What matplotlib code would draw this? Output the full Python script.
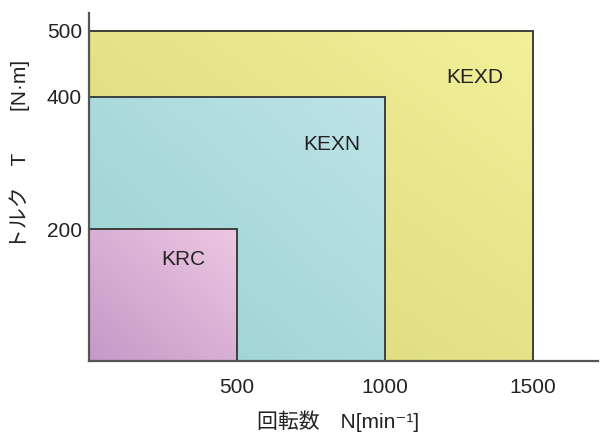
import numpy as np
import matplotlib.pyplot as plt
from matplotlib.patches import Rectangle

plt.rcParams['font.family'] = ['Liberation Sans', 'Noto Sans CJK JP', 'DejaVu Sans']

# motor ranges: max speed [min^-1] and max torque [N*m]
models = ["KEXD", "KEXN", "KRC"]
max_speed = [1500, 1000, 500]
max_torque = [500, 400, 200]
label_pos = [(1302, 421), (821, 320), (319, 145)]
# gradient colours (bottom-left, top-right)
grad_lo = [(0.84, 0.84, 0.47), (0.60, 0.82, 0.82), (0.77, 0.60, 0.78)]
grad_hi = [(0.95, 0.94, 0.60), (0.74, 0.89, 0.91), (0.93, 0.78, 0.89)]

xticks = [500, 1000, 1500]
yticks = [200, 400, 500]

fig = plt.figure(figsize=(6, 4.33), dpi=100)
ax = fig.add_axes([0.148, 0.166, 0.849, 0.804])

n = 64
u, v = np.meshgrid(np.linspace(0, 1, n), np.linspace(0, 1, n))
t = (u + v) / 2

for i, name in enumerate(models):
    w, h = max_speed[i], max_torque[i]
    lo = np.array(grad_lo[i])
    hi = np.array(grad_hi[i])
    img = lo[None, None, :] * (1 - t[..., None]) + hi[None, None, :] * t[..., None]
    ax.imshow(img, extent=(0, w, 0, h), origin='lower', aspect='auto',
              interpolation='bilinear', zorder=1 + 2 * i)
    ax.add_patch(Rectangle((0, 0), w, h, fill=False, edgecolor='#333333',
                           linewidth=1.3, zorder=2 + 2 * i))
    ax.text(label_pos[i][0], label_pos[i][1], name, ha='center', va='baseline',
            fontsize=15, color='#222222', zorder=10)

ax.set_xlim(0, 1720)
ax.set_ylim(0, 527)
ax.set_xticks(xticks)
ax.set_yticks(yticks)
ax.tick_params(length=0, labelsize=15, colors='#222222')
ax.tick_params(axis='x', pad=12)
ax.tick_params(axis='y', pad=5)

for s in ['top', 'right']:
    ax.spines[s].set_visible(False)
for s in ['left', 'bottom']:
    ax.spines[s].set_color('#555555')
    ax.spines[s].set_linewidth(1.6)
    ax.spines[s].set_zorder(12)

fig.text(338 / 600, 1 - 421 / 433, "回転数　N[min⁻¹]", fontsize=15,
         color='#222222', ha='center', va='center')
fig.text(20 / 600, 1 - 154 / 433, "トルク　T　　[N·m]", fontsize=15,
         color='#222222', ha='center', va='center', rotation=90)

fig.savefig("out.png", dpi=100)
